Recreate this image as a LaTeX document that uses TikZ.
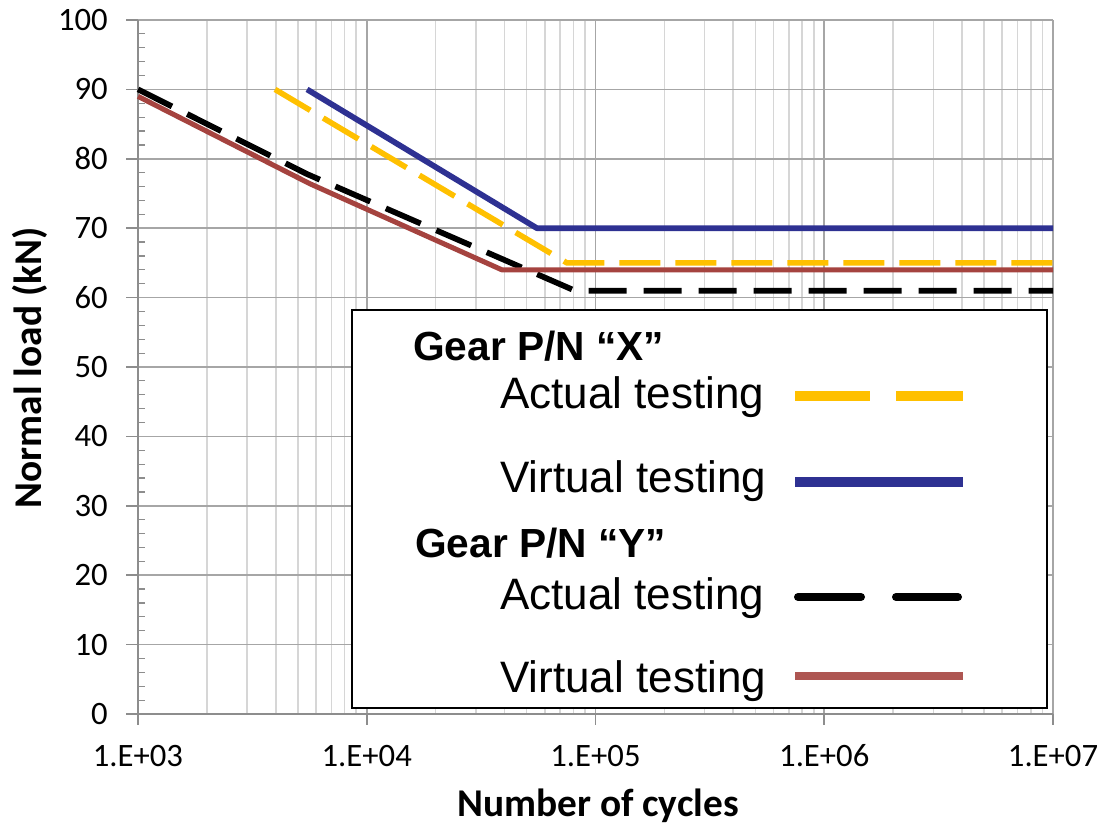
\documentclass[tikz,border=0pt]{standalone}
\usepackage{fontspec}
\setmainfont{Carlito}
\newfontfamily\arial{Liberation Sans}
\definecolor{gold}{HTML}{FFC000}
\definecolor{navy}{HTML}{2E3192}
\definecolor{brick}{HTML}{A5433F}
\definecolor{gridmaj}{HTML}{A6A6A6}
\definecolor{gridmin}{HTML}{D6D6D6}
\tikzset{
  minorgrid/.style={draw=gridmin, line width=1.2pt},
  majorgrid/.style={draw=gridmaj, line width=1.2pt},
  axisline/.style={draw=gridmaj!85!black, line width=1.2pt},
  ticklabel/.style={font=\fontsize{24.5}{28}\selectfont, inner sep=0pt},
  axistitle/.style={font=\fontsize{29.5}{34}\selectfont\bfseries, inner sep=0pt},
  xacttest/.style={draw=gold, line width=4.2pt, dash pattern=on 30.75pt off 11.25pt, line join=round},
  xvirttest/.style={draw=navy, line width=4.3pt, line join=round},
  yacttest/.style={draw=black, line width=4.3pt, dash pattern=on 28.5pt off 12.75pt, line join=round},
  yvirttest/.style={draw=brick, line width=3.8pt, line join=round},
  legtitle/.style={font=\arial\fontsize{30.5}{36}\selectfont\bfseries, anchor=base west, inner sep=0pt},
  legtext/.style={font=\arial\fontsize{33}{40}\selectfont, anchor=base west, inner sep=0pt},
}
\begin{document}
\begin{tikzpicture}[x=0.75pt, y=-0.75pt]
\useasboundingbox (0,0) rectangle (1100,826);
\fill[white] (0,0) rectangle (1100,826);

\begin{scope}[shift={(138,714)}, x=171.5625pt, y=5.205pt]
  % minor vertical grid
  \foreach \d in {0,1,2,3}{
    \foreach \m in {2,...,9}{
      \draw[minorgrid] ({\d+log10(\m)},0) -- ({\d+log10(\m)},100);
    }
  }
  % major vertical grid
  \foreach \d in {1,2,3,4}{
    \draw[majorgrid] (\d,0) -- (\d,100);
  }
  % horizontal grid
  \foreach \v in {10,20,...,100}{
    \draw[majorgrid] (0,\v) -- (4,\v);
  }
  % axes
  \draw[axisline] (0,0) -- (0,100);
  \draw[axisline] (0,0) -- (4,0);
  \foreach \v in {0,10,...,100}{
    \draw[axisline] (0,\v) -- ++(-9pt,0pt);
  }
  \foreach \v in {2,4,6,8,12,14,16,18,22,24,26,28,32,34,36,38,42,44,46,48,52,54,56,58,62,64,66,68,72,74,76,78,82,84,86,88,92,94,96,98}{
    \draw[axisline, line width=0.9pt] (0,\v) -- ++(5.5pt,0pt);
  }
  \foreach \d in {0,1,2,3,4}{
    \draw[axisline] (\d,0) -- ++(0pt,-8pt);
  }

  % curves
  \coordinate (ys) at (0,90);
  \coordinate (yb) at (0.739,77.8);
  \coordinate (yk) at (1.91,61);
  \coordinate (ye) at (4,61);
  \draw[yacttest] (ys) -- (yb) -- (yk) -- (ye);

  \coordinate (rs) at (0,89);
  \coordinate (rb) at (0.752,76.4);
  \coordinate (rk) at (1.591,64);
  \coordinate (re) at (4,64);
  \draw[yvirttest] (rs) -- (rb) -- (rk) -- (re);

  \coordinate (gs) at (0.599,90);
  \coordinate (gk) at (1.875,65);
  \coordinate (ge) at (4,65);
  \draw[xacttest] (gs) -- (gk) -- (ge);

  \coordinate (bs) at (0.739,90);
  \coordinate (bk) at (1.744,70);
  \coordinate (be) at (4,70);
  \draw[xvirttest] (bs) -- (bk) -- (be);
\end{scope}

% y tick labels
\foreach \v in {0,10,...,100}{
  \node[ticklabel, anchor=east] (yl\v) at (108,{714-6.94*\v}) {\v};
}
% x tick labels
\node[ticklabel] (xl3) at (138,756) {1.E+03};
\node[ticklabel] (xl4) at (366.75,756) {1.E+04};
\node[ticklabel] (xl5) at (595.5,756) {1.E+05};
\node[ticklabel] (xl6) at (824.25,756) {1.E+06};
\node[ticklabel] (xl7) at (1053,756) {1.E+07};

% axis titles
\node[axistitle] (xtitle) at (598,806) {Number of cycles};
\node[axistitle, rotate=90] (ytitle) at (30,368) {Normal load (kN)};

% legend
\draw[fill=white, draw=black, line width=1.3pt] (352,310) rectangle (1047,708);
\node[legtitle] (lgx) at (413,360) {Gear P/N “X”};
\node[legtext] (lxa) at (500,408) {Actual testing};
\node[legtext] (lxv) at (500,492) {Virtual testing};
\node[legtitle] (lgy) at (415,557) {Gear P/N “Y”};
\node[legtext] (lya) at (500,609) {Actual testing};
\node[legtext] (lyv) at (500,692) {Virtual testing};

\coordinate (k1a) at (795,396);
\coordinate (k1b) at (870,396);
\coordinate (k1c) at (896,396);
\coordinate (k1d) at (963,396);
\draw[draw=gold, line width=7.5pt] (k1a) -- (k1b) (k1c) -- (k1d);
\coordinate (k2a) at (795,482);
\coordinate (k2b) at (963,482);
\draw[draw=navy, line width=7pt] (k2a) -- (k2b);
\coordinate (k3a) at (798,597);
\coordinate (k3b) at (861,597);
\coordinate (k3c) at (896,597);
\coordinate (k3d) at (958,597);
\draw[draw=black, line width=6pt, line cap=round] (k3a) -- (k3b) (k3c) -- (k3d);
\coordinate (k4a) at (795,676);
\coordinate (k4b) at (963,676);
\draw[draw=brick!90!white, line width=6pt] (k4a) -- (k4b);
\end{tikzpicture}
\end{document}
